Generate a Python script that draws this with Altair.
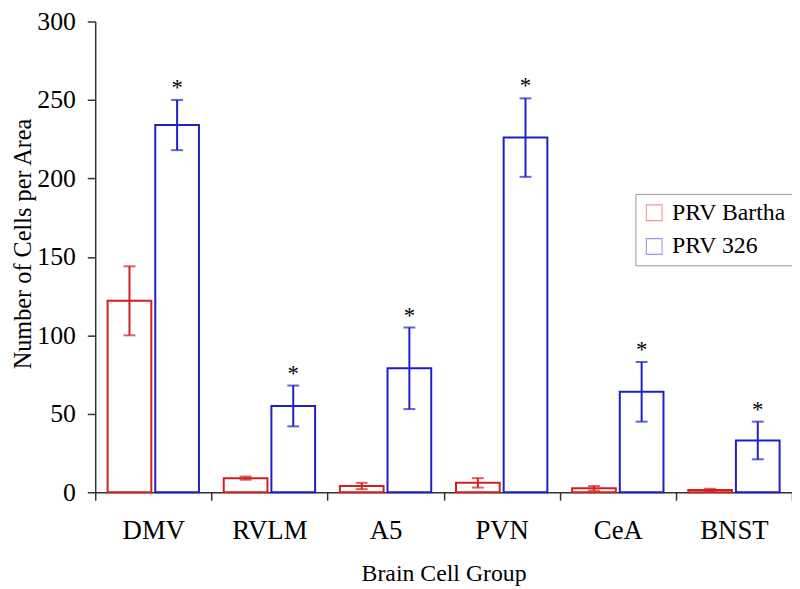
import altair as alt
import pandas as pd

groups = ["DMV", "RVLM", "A5", "PVN", "CeA", "BNST"]
series_names = ["PRV Bartha", "PRV 326"]
bartha = [122, 9, 4, 6, 2.5, 1.4]
bartha_err = [22, 1, 2, 3, 1.5, 0.8]
prv326 = [234, 55, 79, 226, 64, 33]
prv326_err = [16, 13, 26, 25, 19, 12]
star326 = [True, True, True, True, True, True]

rows = []
for i, g in enumerate(groups):
    rows.append(dict(group=g, series=series_names[0], value=bartha[i], err=bartha_err[i], star=""))
    rows.append(dict(group=g, series=series_names[1], value=prv326[i], err=prv326_err[i],
                     star="*" if star326[i] else ""))
df = pd.DataFrame(rows)
df["lo"] = df["value"] - df["err"]
df["hi"] = df["value"] + df["err"]

FONT = "Liberation Serif, Times New Roman, Times, DejaVu Serif, serif"
colors = ["#d21f1f", "#1f1fc8"]

PLOT_W = 703
PLOT_H = 475

# hollow square (ring) symbol for the legend
RING = "M-1,-1H1V1H-1Z M-0.87,-0.87V0.87H0.87V-0.87Z"

x = alt.X("group:N", sort=groups, title="Brain Cell Group",
          scale=alt.Scale(paddingInner=0, paddingOuter=0),
          axis=alt.Axis(tickBand="extent", labelAngle=0, labelPadding=39,
                        labelBaseline="alphabetic", labelFontSize=27,
                        titleFontSize=24, titleBaseline="alphabetic", titleY=89))
xo = alt.XOffset("series:N", sort=series_names,
                 scale=alt.Scale(paddingInner=0.083, paddingOuter=0.26))
y_scale = alt.Scale(domain=[0, 300], nice=False)
color_scale = alt.Scale(domain=series_names, range=colors)

base = alt.Chart(df)

bars = base.mark_bar(filled=False, strokeWidth=2).encode(
    x=x, xOffset=xo,
    y=alt.Y("value:Q", scale=y_scale, title="Number of Cells per Area",
            axis=alt.Axis(values=[0, 50, 100, 150, 200, 250, 300], labelPadding=12,
                          labelFontSize=26, titleFontSize=24.5, titleBaseline="alphabetic",
                          titleX=-65, titleY=224)),
    stroke=alt.Stroke("series:N", sort=series_names, scale=color_scale,
                      legend=alt.Legend(title=None, orient="none", legendX=545, legendY=174,
                                        symbolType=RING, symbolSize=289,
                                        symbolStrokeWidth=0, symbolOpacity=0.45,
                                        labelFont=FONT, labelFontSize=24, labelColor="black",
                                        rowPadding=10, labelOffset=6,
                                        strokeColor="#999999", padding=7)),
)

err_color = alt.Color("series:N", scale=color_scale, legend=None)
rules = base.mark_rule(strokeWidth=2).encode(
    x=x, xOffset=xo, y=alt.Y("lo:Q", scale=y_scale), y2="hi:Q", color=err_color,
)
caps_hi = base.mark_tick(size=12, thickness=2).encode(
    x=x, xOffset=xo, y=alt.Y("hi:Q", scale=y_scale), color=err_color,
)
caps_lo = base.mark_tick(size=12, thickness=2).encode(
    x=x, xOffset=xo, y=alt.Y("lo:Q", scale=y_scale), color=err_color,
)
stars = base.mark_text(font=FONT, fontSize=23, baseline="alphabetic", dy=-5, color="black").encode(
    x=x, xOffset=xo, y=alt.Y("hi:Q", scale=y_scale), text="star:N",
)

chart = alt.layer(bars, rules, caps_hi, caps_lo, stars).properties(
    width=PLOT_W, height=PLOT_H,
    autosize=alt.AutoSizeParams(type="none"),
    padding={"left": 88, "top": 11, "right": 0, "bottom": 95},
).configure_view(stroke=None).configure_axis(
    labelFont=FONT, titleFont=FONT,
    labelColor="black", titleColor="black", titleFontWeight="normal",
    domainColor="#333333", tickColor="#333333", domainWidth=1.5, tickWidth=1.5,
    tickSize=8, grid=False,
)

chart.save("out.html", embed_options={"renderer": "svg", "actions": False})
